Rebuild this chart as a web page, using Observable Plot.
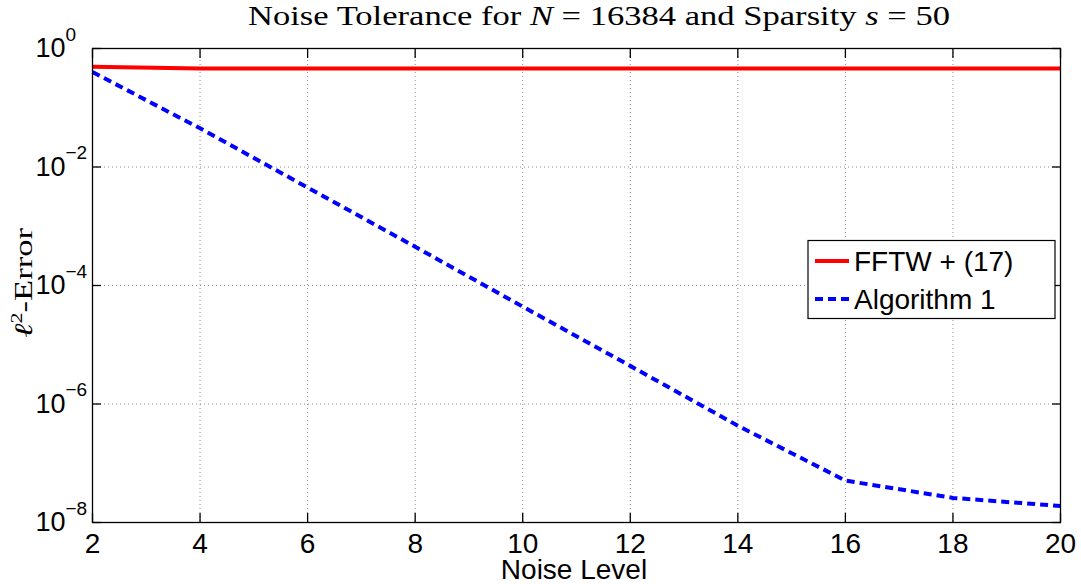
<!DOCTYPE html>
<html><head><meta charset="utf-8">
<script src="https://cdn.jsdelivr.net/npm/d3@7"></script>
<script src="https://cdn.jsdelivr.net/npm/@observablehq/plot@0.6"></script>
<style>
body{margin:0;background:#fff;}
#wrap{width:1081px;height:584px;}
</style></head>
<body><div id="wrap"></div>
<script>
// ---- data ----
const noiseLevels = [2, 4, 6, 8, 10, 12, 14, 16, 18, 20];
const fftwError   = [0.49, 0.46, 0.46, 0.46, 0.46, 0.46, 0.46, 0.46, 0.46, 0.46];
const algError    = [0.40, 0.045, 0.0045, 4.5e-4, 4.4e-5, 4.4e-6, 4.3e-7, 5.1e-8, 2.6e-8, 1.9e-8];
const seriesNames  = ["FFTW + (17)", "Algorithm 1"];
const seriesColors = ["#ff0000", "#0000ff"];
const xTicks = [2, 4, 6, 8, 10, 12, 14, 16, 18, 20];
const yTicks = [1, 1e-2, 1e-4, 1e-6, 1e-8];
const xLabel = "Noise Level";

const fftwData = noiseLevels.map((x, i) => ({x, y: fftwError[i]}));
const algData  = noiseLevels.map((x, i) => ({x, y: algError[i]}));
const expText = d => { const e = Math.round(Math.log10(d)); return e < 0 ? "\u2212" + (-e) : String(e); };

const font = "'Liberation Sans', Arial, Helvetica, sans-serif";
const serif = "'Liberation Serif', 'Times New Roman', serif";

const chart = Plot.plot({
  width: 1081,
  height: 584,
  marginLeft: 92,
  marginRight: 21,
  marginTop: 48,
  marginBottom: 62,
  style: {fontFamily: font, fontSize: "28px", color: "#000", background: "#fff"},
  x: {domain: [2, 20]},
  y: {type: "log", domain: [1e-8, 1]},
  marks: [
    Plot.gridX(xTicks, {stroke: "#000", strokeOpacity: 0.45, strokeDasharray: "1,3", strokeWidth: 1}),
    Plot.gridY(yTicks, {stroke: "#000", strokeOpacity: 0.45, strokeDasharray: "1,3", strokeWidth: 1}),
    Plot.axisX(xTicks, {anchor: "bottom", tickSize: -9, tickFormat: () => "", label: null, strokeWidth: 1.3}),
    Plot.axisX(xTicks, {anchor: "top", tickSize: -9, tickFormat: () => "", label: null, strokeWidth: 1.3}),
    Plot.axisY(yTicks, {anchor: "left", tickSize: -9, tickFormat: () => "", label: null, strokeWidth: 1.3}),
    Plot.axisY(yTicks, {anchor: "right", tickSize: -9, tickFormat: () => "", label: null, strokeWidth: 1.3}),
    Plot.axisX(xTicks, {anchor: "bottom", tickSize: 0, tickPadding: 11, fontSize: 28, label: null, tickFormat: d => String(d)}),
    Plot.text(yTicks, {y: d => d, frameAnchor: "left", dx: -57, textAnchor: "start", lineAnchor: "middle", text: () => "10", fontSize: 27}),
    Plot.text(yTicks, {y: d => d, frameAnchor: "left", dx: -27, dy: -14, textAnchor: "start", lineAnchor: "middle", text: d => expText(d), fontSize: 19}),
    Plot.line(fftwData, {x: "x", y: "y", stroke: seriesColors[0], strokeWidth: 4, strokeLinecap: "butt"}),
    Plot.line(algData, {x: "x", y: "y", stroke: seriesColors[1], strokeWidth: 4, strokeDasharray: "8,5", strokeLinecap: "butt"}),
    Plot.frame({stroke: "#000", strokeWidth: 1.3})
  ]
});

document.getElementById("wrap").appendChild(chart);
const svg = d3.select(chart);

// Title
const title = svg.append("text")
  .attr("x", 248).attr("y", 25)
  .attr("text-anchor", "start")
  .attr("font-family", serif)
  .attr("font-size", 27)
  .attr("textLength", 702).attr("lengthAdjust", "spacingAndGlyphs")
  .attr("fill", "#000");
title.append("tspan").text("Noise Tolerance for ");
title.append("tspan").attr("font-style", "italic").text("N");
title.append("tspan").text(" = 16384 and Sparsity ");
title.append("tspan").attr("font-style", "italic").text("s");
title.append("tspan").text(" = 50");

// Y label
const yl = svg.append("text")
  .attr("transform", "translate(32,283) rotate(-90)")
  .attr("text-anchor", "middle")
  .attr("font-family", serif)
  .attr("font-size", 25)
  .attr("textLength", 110).attr("lengthAdjust", "spacingAndGlyphs")
  .attr("fill", "#000");
yl.append("tspan").attr("font-style", "italic").text("\u2113");
yl.append("tspan").attr("font-size", 16).attr("dy", -10).text("2");
yl.append("tspan").attr("dy", 10).text("-Error");

// X label
svg.append("text")
  .attr("x", 574).attr("y", 579)
  .attr("text-anchor", "middle")
  .attr("font-family", font)
  .attr("font-size", 28)
  .attr("fill", "#000")
  .text(xLabel);

// Legend
const lg = svg.append("g");
lg.append("rect").attr("x", 808).attr("y", 240.5).attr("width", 247).attr("height", 78)
  .attr("fill", "#fff").attr("stroke", "#000").attr("stroke-width", 1.2);
const rows = [261, 299];
seriesNames.forEach((name, i) => {
  lg.append("line").attr("x1", 815).attr("x2", 849).attr("y1", rows[i]).attr("y2", rows[i])
    .attr("stroke", seriesColors[i]).attr("stroke-width", 4)
    .attr("stroke-dasharray", i === 1 ? "8,5" : null);
  lg.append("text").attr("x", 854).attr("y", rows[i] + 10)
    .attr("text-anchor", "start")
    .attr("font-family", font).attr("font-size", 28).attr("fill", "#000").text(name);
});
</script>
</body></html>
